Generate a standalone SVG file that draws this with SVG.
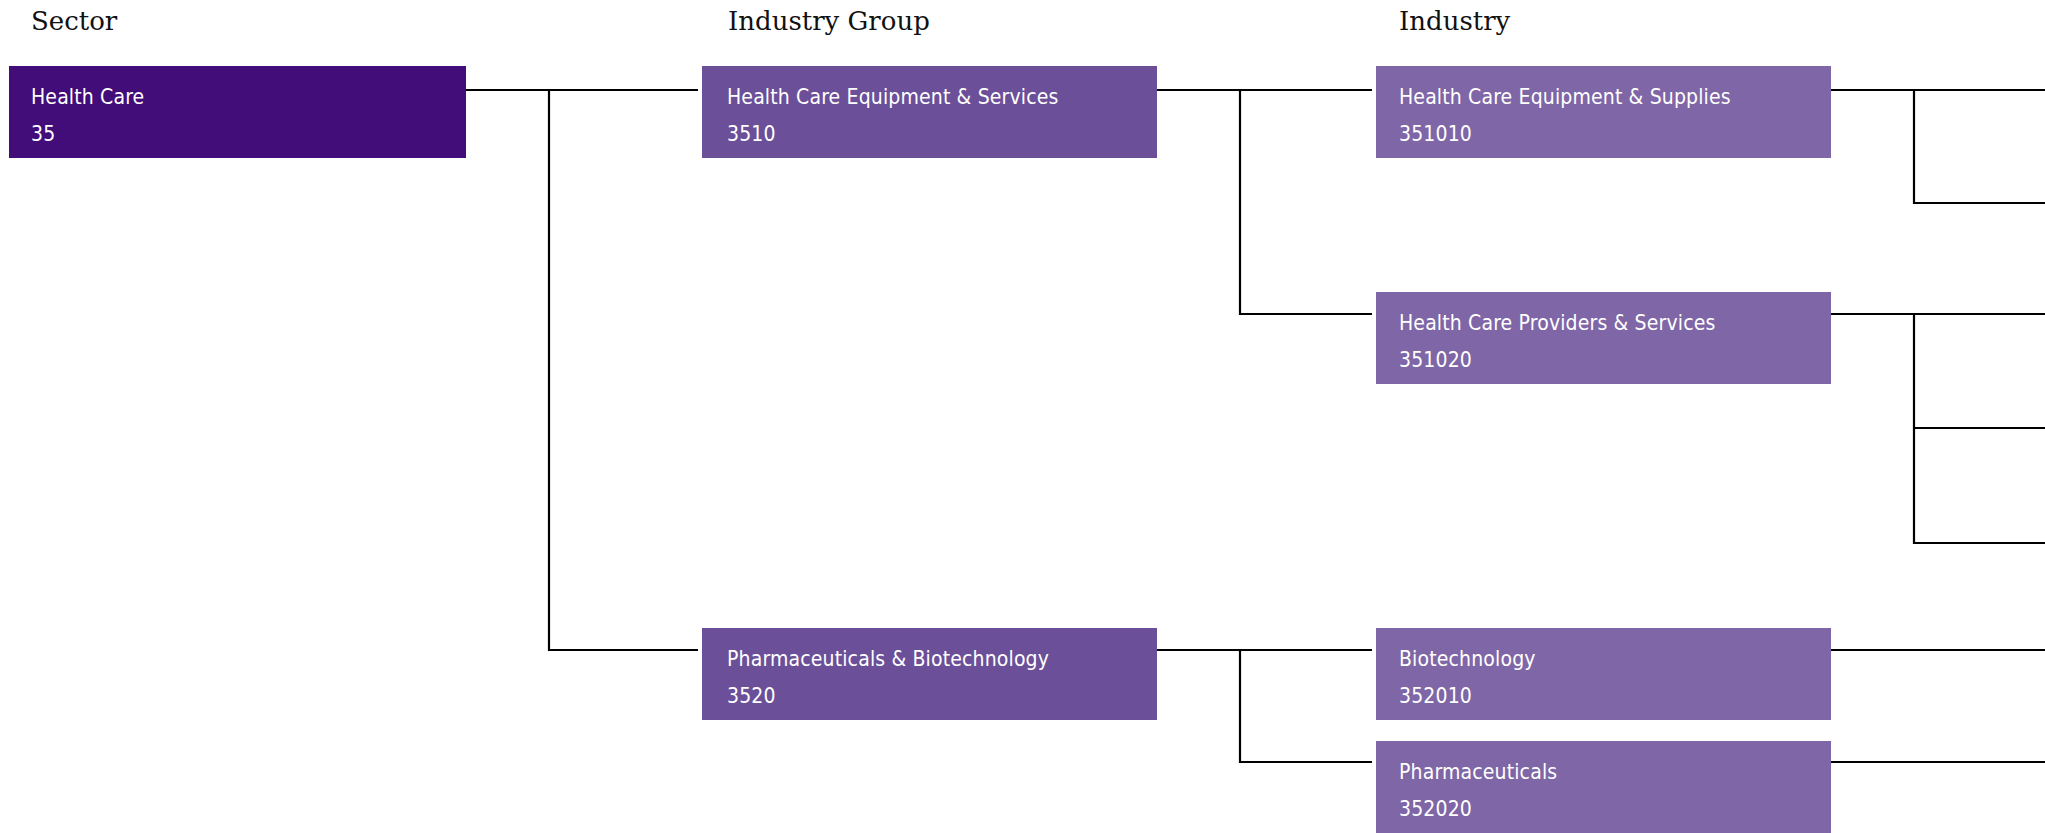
<svg xmlns="http://www.w3.org/2000/svg" width="2045" height="833" viewBox="0 0 2045 833">
<style>
.hdr{font-family:"DejaVu Serif","Liberation Serif",serif;font-size:26px;fill:#111}
.box-s{fill:#420c79}
.box-g{fill:#6b4f99}
.box-i{fill:#7f66a6}
.lbl{font-family:"DejaVu Sans Condensed","Liberation Sans",sans-serif;font-size:21px;letter-spacing:0.15px;fill:#fff}
.conn{fill:none;stroke:#000;stroke-width:2.2}
</style>
<rect width="2045" height="833" fill="#fff"/>
<g id="headers">
<text class="hdr" x="31" y="30">Sector</text>
<text class="hdr" x="728" y="30">Industry Group</text>
<text class="hdr" x="1399" y="30">Industry</text>
</g>
<g id="connectors">
<path class="conn" d="M466 90H698M549 90V650H698"/>
<path class="conn" d="M1157 90H1372M1240 90V314H1372"/>
<path class="conn" d="M1157 650H1372M1240 650V762H1372"/>
<path class="conn" d="M1831 90H2045M1914 90V203H2045"/>
<path class="conn" d="M1831 314H2045M1914 314V543H2045M1914 428H2045"/>
<path class="conn" d="M1831 650H2045"/>
<path class="conn" d="M1831 762H2045"/>
</g>
<g id="n35">
<rect class="box-s" x="9" y="66" width="457" height="92"/>
<text class="lbl" x="31" y="104">Health Care</text>
<text class="lbl" x="31" y="141">35</text>
</g>
<g id="n3510">
<rect class="box-g" x="702" y="66" width="455" height="92"/>
<text class="lbl" x="727" y="104">Health Care Equipment &amp; Services</text>
<text class="lbl" x="727" y="141">3510</text>
</g>
<g id="n3520">
<rect class="box-g" x="702" y="628" width="455" height="92"/>
<text class="lbl" x="727" y="666">Pharmaceuticals &amp; Biotechnology</text>
<text class="lbl" x="727" y="703">3520</text>
</g>
<g id="n351010">
<rect class="box-i" x="1376" y="66" width="455" height="92"/>
<text class="lbl" x="1399" y="104">Health Care Equipment &amp; Supplies</text>
<text class="lbl" x="1399" y="141">351010</text>
</g>
<g id="n351020">
<rect class="box-i" x="1376" y="292" width="455" height="92"/>
<text class="lbl" x="1399" y="330">Health Care Providers &amp; Services</text>
<text class="lbl" x="1399" y="367">351020</text>
</g>
<g id="n352010">
<rect class="box-i" x="1376" y="628" width="455" height="92"/>
<text class="lbl" x="1399" y="666">Biotechnology</text>
<text class="lbl" x="1399" y="703">352010</text>
</g>
<g id="n352020">
<rect class="box-i" x="1376" y="741" width="455" height="92"/>
<text class="lbl" x="1399" y="779">Pharmaceuticals</text>
<text class="lbl" x="1399" y="816">352020</text>
</g>
</svg>
